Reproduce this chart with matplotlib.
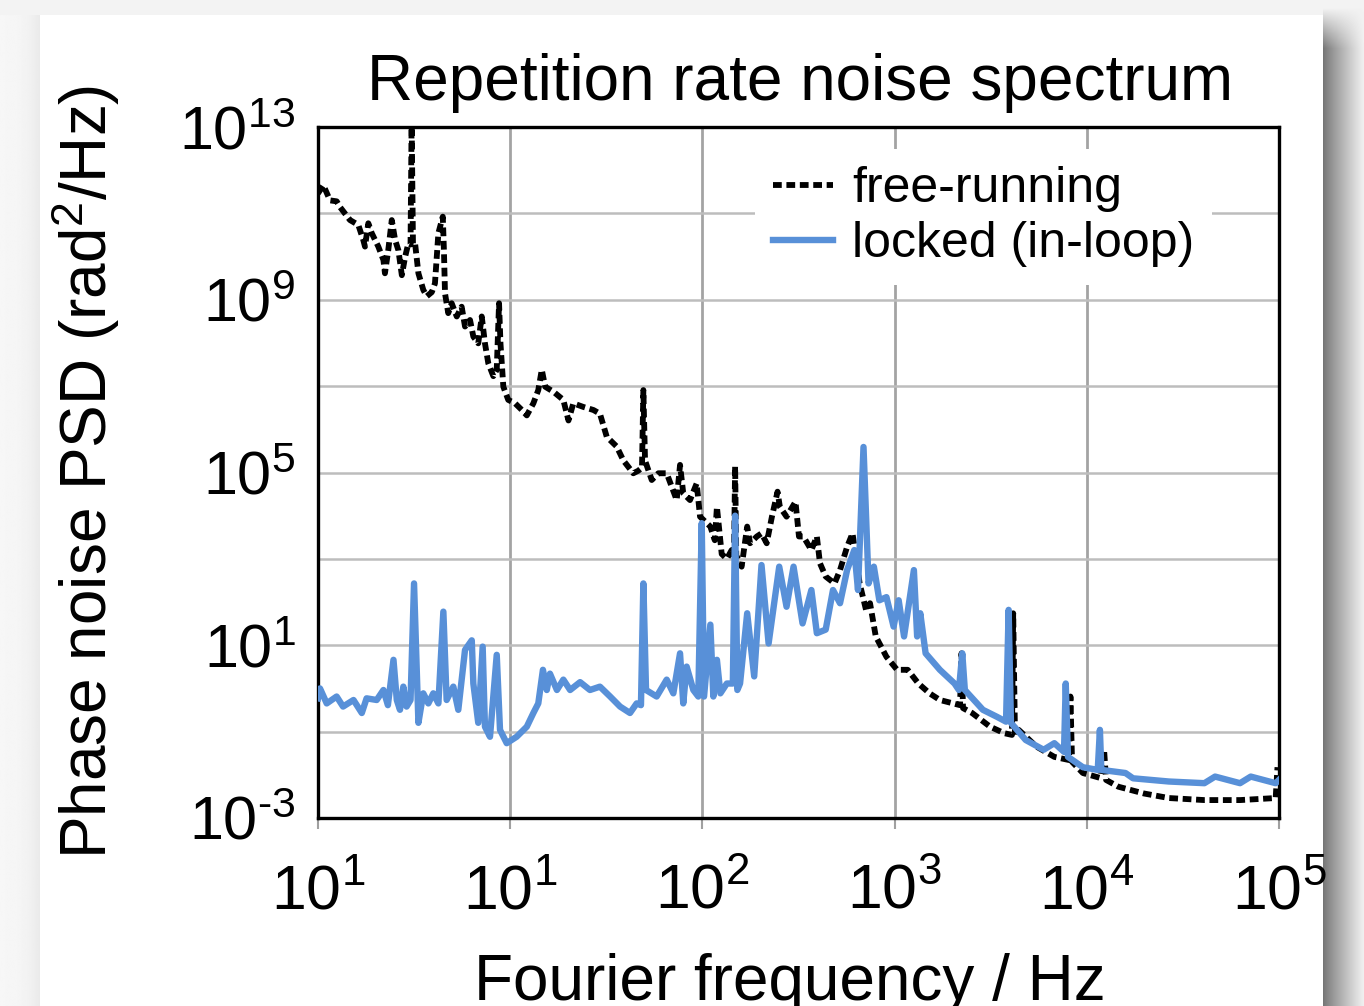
import numpy as np
import matplotlib
matplotlib.use("Agg")
import matplotlib.pyplot as plt
from matplotlib.lines import Line2D
from matplotlib.patches import Rectangle
from matplotlib.ticker import FixedLocator, LogLocator, NullFormatter

plt.rcParams['font.family'] = ['Liberation Sans', 'DejaVu Sans']
plt.rcParams['mathtext.fontset'] = 'custom'
plt.rcParams['mathtext.rm'] = 'Liberation Sans'

# free-running spectrum
freq_free = [1.00, 1.066, 1.155, 1.251, 1.302, 1.467, 1.621, 1.721, 1.756, 1.827,
             1.903, 2.06, 2.19, 2.23, 2.32, 2.42, 2.52, 2.62, 2.73, 2.84,
             2.95, 3.03, 3.07, 3.12, 3.20, 3.33, 3.53, 3.68, 3.91, 4.06,
             4.23, 4.46, 4.52, 4.58, 4.76, 4.96, 5.27, 5.59, 5.82, 6.18,
             6.43, 6.82, 7.11, 7.39, 7.69, 8.17, 8.51, 8.75, 8.90, 9.21,
             9.77, 10.6, 11.5, 12.2, 13.2, 14.0, 14.6, 15.2, 16.8, 18.9,
             20.1, 21.3, 24.0, 27.1, 29.3, 31.8, 35.8, 38.8, 43.7, 46.4,
             48.5, 49.3, 50.3, 54.5, 59.0, 65.2, 69.2, 73.5, 76.5, 79.5,
             86.2, 93.4, 97.2, 110, 116, 119, 126, 134, 142, 146,
             148, 150, 160, 171, 177, 192, 203, 216, 230, 246,
             253, 274, 305, 318, 335, 369, 394, 409, 438, 487,
             520, 566, 604, 658, 710, 745, 798, 907, 1030, 1170,
             1330, 1520, 1720, 2190, 2230, 2270, 2530, 3140, 3720, 4080,
             4140, 4230, 4420, 5470, 6780, 8080, 8220, 8380, 9540, 11700,
             12300, 12600, 14600, 19800, 26700, 40900, 62700, 96100, 98200]
psd_free = [2.9e11, 4.5e11, 2.0e11, 1.9e11, 1.4e11, 7.0e10, 5.4e10, 2.4e10, 1.7e10, 5.9e10,
            3.5e10, 1.7e10, 8.3e9, 4.1e9, 1.4e10, 7.0e10, 2.4e10, 1.4e10, 3.7e9, 9.9e9,
            2.0e10, 1.9e10, 1.5e13, 1.9e10, 2.0e10, 4.1e9, 1.7e9, 1.2e9, 1.5e9, 2.4e9,
            3.5e10, 8.4e10, 1.4e10, 1.4e9, 4.9e8, 8.3e8, 4.1e8, 6.9e8, 2.4e8, 3.4e8,
            1.4e8, 9.8e7, 4.1e8, 9.8e7, 3.4e7, 1.7e7, 2.4e7, 8.3e8, 9.8e7, 9.7e6,
            4.8e6, 4.0e6, 2.8e6, 2.1e6, 4.0e6, 8.1e6, 2.4e7, 9.7e6, 7.4e6, 4.8e6,
            1.6e6, 4.0e6, 3.3e6, 2.8e6, 2.3e6, 6.7e5, 4.0e5, 1.9e5, 9.6e4, 1.1e5,
            1.3e5, 8.1e6, 1.9e5, 6.7e4, 9.6e4, 9.6e4, 4.7e4, 2.3e4, 1.5e5, 3.3e4,
            2.3e4, 5.6e4, 9.5e3, 5.6e3, 2.7e3, 1.6e4, 1.3e3, 1.0e3, 1.6e3, 1.2e3,
            1.4e5, 1.2e3, 6.6e2, 5.6e3, 2.3e3, 3.3e3, 3.9e3, 2.3e3, 9.5e3, 3.6e4,
            1.6e4, 9.5e3, 2.1e4, 3.3e3, 3.3e3, 1.6e3, 3.3e3, 7.9e2, 3.9e2, 2.7e2,
            5.5e2, 1.9e3, 3.9e3, 2.7e2, 66, 94, 16, 5.4, 2.7, 2.7,
            1.3, 0.77, 0.54, 0.41, 6.5, 0.35, 0.27, 0.13, 0.092, 0.084,
            55, 0.084, 0.11, 0.045, 0.026, 0.022, 0.65, 0.020, 0.011, 0.0085,
            0.038, 0.0076, 0.0053, 0.0037, 0.0029, 0.0026, 0.0026, 0.0029, 0.015]

# locked (in-loop) spectrum
freq_lock = [1.00, 1.024, 1.11, 1.25, 1.35, 1.53, 1.69, 1.79, 2.02, 2.19,
             2.31, 2.47, 2.57, 2.67, 2.78, 2.89, 3.03, 3.16, 3.33, 3.53,
             3.75, 3.98, 4.23, 4.49, 4.67, 5.06, 5.37, 5.82, 6.31, 6.43,
             6.82, 7.19, 7.39, 7.85, 8.51, 8.85, 9.59, 10.8, 12.2, 13.2,
             14.0, 14.8, 15.5, 16.1, 17.5, 18.9, 20.5, 23.1, 26.0, 29.3,
             33.1, 37.3, 42.0, 45.5, 47.9, 49.3, 50.9, 57.8, 65.2, 70.6,
             76.5, 79.5, 82.8, 89.7, 95.2, 99.2, 102, 110, 114, 119,
             124, 134, 144, 148, 152, 157, 171, 186, 203, 221,
             251, 274, 298, 332, 369, 394, 438, 478, 520, 566,
             617, 645, 689, 732, 780, 833, 907, 988, 1050, 1120,
             1260, 1310, 1360, 1450, 1720, 2050, 2160, 2250, 2320, 2880,
             3410, 3800, 3920, 4030, 4810, 5960, 6780, 7610, 7770, 7980,
             9540, 11400, 11700, 11900, 15900, 17400, 26700, 40900, 46500, 62700,
             71300, 96100, 100000]
psd_lock = [0.59, 1.0, 0.45, 0.65, 0.38, 0.54, 0.27, 0.59, 0.54, 0.92,
            0.41, 4.6, 0.54, 0.32, 1.1, 0.38, 0.54, 270, 0.16, 0.77,
            0.45, 0.77, 0.45, 60, 0.54, 1.1, 0.32, 7.8, 13, 1.3,
            0.16, 9.3, 0.13, 0.076, 6.0, 0.11, 0.054, 0.076, 0.13, 0.27,
            0.45, 2.7, 0.92, 2.2, 0.92, 1.6, 0.92, 1.4, 0.92, 1.1,
            0.65, 0.38, 0.27, 0.45, 0.41, 270, 0.92, 0.65, 1.6, 0.77,
            6.5, 0.45, 3.2, 0.92, 0.65, 6.7e3, 0.65, 30, 0.65, 4.6,
            0.77, 1.3, 1.3, 1.0e4, 0.92, 1.3, 55, 1.9, 720, 11,
            660, 78, 660, 32, 190, 19, 23, 190, 94, 550,
            1.6e3, 190, 3.9e5, 270, 660, 110, 130, 27, 110, 16,
            550, 16, 55, 6.5, 2.7, 1.3, 0.92, 6.5, 0.92, 0.32,
            0.22, 0.17, 66, 0.16, 0.064, 0.038, 0.054, 0.034, 1.3, 0.026,
            0.015, 0.013, 0.11, 0.013, 0.011, 0.0083, 0.0070, 0.0064, 0.0091, 0.0064,
            0.0091, 0.0064, 0.0076]

x_ticks = [1e0, 1e1, 1e2, 1e3, 1e4, 1e5]
x_ticklabels = ['$\\mathregular{10^{1}}$', '$\\mathregular{10^{1}}$', '$\\mathregular{10^{2}}$',
                '$\\mathregular{10^{3}}$', '$\\mathregular{10^{4}}$', '$\\mathregular{10^{5}}$']
y_ticks = [1e-3, 1e1, 1e5, 1e9, 1e13]
y_ticklabels = ['$\\mathregular{10^{\u2010 3}}$', '$\\mathregular{10^{1}}$', '$\\mathregular{10^{5}}$',
                '$\\mathregular{10^{9}}$', '$\\mathregular{10^{13}}$']
y_grid_extra = [1e-1, 1e3, 1e7, 1e11]

BLUE = '#5890d8'
W, H = 1364, 1006
fig = plt.figure(figsize=(W / 100, H / 100), dpi=100, facecolor='#f3f3f3')

# card shadow on the right and left
xs = np.linspace(0, 1, 41)
ys = np.linspace(0, 1, H)
shade = 0.46 + 0.48 * xs[None, :] ** 0.9
top = np.clip((ys[:, None] * H - 8) / 40, 0, 1)
shade = 0.95 - (0.95 - shade) * top
sh = fig.add_axes([1323 / W, 0, 41 / W, 1])
sh.imshow(shade, cmap='gray', vmin=0, vmax=1, aspect='auto', extent=[0, 1, 0, 1])
sh.axis('off')
lshade = 0.965 - 0.05 * xs[None, :] ** 3 * np.ones((H, 1))
sl = fig.add_axes([0, 0, 40 / W, 1 - 15 / H])
sl.imshow(lshade, cmap='gray', vmin=0, vmax=1, aspect='auto', extent=[0, 1, 0, 1])
sl.axis('off')
fig.patches.append(Rectangle((40 / W, 0), (1323 - 40) / W, 1 - 15 / H,
                             transform=fig.transFigure, facecolor='white',
                             edgecolor='none', zorder=-5))

ax = fig.add_axes([318 / W, 1 - 818 / H, (1279 - 318) / W, (818 - 127) / H])
ax.set_facecolor('white')
ax.set_xscale('log')
ax.set_yscale('log')
ax.set_xlim(1, 1e5)
ax.set_ylim(1e-3, 1e13)

ax.plot(freq_free, psd_free, color='black', lw=4.2, dashes=(1.5, 0.8),
        dash_capstyle='butt', zorder=3)
ax.plot(freq_lock, psd_lock, color=BLUE, lw=4.6, zorder=4)

ax.set_xticks(x_ticks)
ax.set_xticklabels(x_ticklabels)
ax.xaxis.set_minor_locator(LogLocator(base=10, subs=np.arange(2, 10)))
ax.xaxis.set_minor_formatter(NullFormatter())
ax.set_yticks(y_ticks)
ax.set_yticklabels(y_ticklabels)
ax.yaxis.set_minor_locator(FixedLocator(y_grid_extra))
ax.yaxis.set_minor_formatter(NullFormatter())

ax.grid(True, which='major', axis='x', color='#a3a3a3', lw=2.0, zorder=0)
ax.grid(True, which='minor', axis='x', color='#dedede', lw=1.6, zorder=0)
ax.grid(True, which='both', axis='y', color='#bdbdbd', lw=1.8, zorder=0)
ax.set_axisbelow(True)

ax.tick_params(axis='x', which='major', length=8, width=1.5, color='#a0a0a0',
               labelsize=45, pad=24)
ax.tick_params(axis='x', which='minor', length=0)
ax.tick_params(axis='y', which='both', length=0, labelsize=44, pad=16)
for s in ax.spines.values():
    s.set_linewidth(2.4)
    s.set_color('black')

handles = [Line2D([], [], color='black', lw=4.2, dashes=(1.5, 0.8)),
           Line2D([], [], color=BLUE, lw=4.6)]
leg = ax.legend(handles, ['free-running', 'locked (in-loop)'], loc='upper right',
                bbox_to_anchor=(0.956, 1.005), fontsize=36, frameon=True,
                handlelength=1.2, handletextpad=0.38, labelspacing=0.18,
                borderpad=0.35, fancybox=False)
leg.get_frame().set_facecolor('white')
leg.get_frame().set_edgecolor('none')
leg.get_frame().set_alpha(1)

fig.text(800 / W, 1 - 100 / H, 'Repetition rate noise spectrum', fontsize=46,
         ha='center', va='baseline')
fig.text(107 / W, 1 - 472 / H, 'Phase noise PSD (rad$\\mathregular{^2}$/Hz)', fontsize=46,
         rotation=90, rotation_mode='anchor', ha='center', va='baseline')
fig.text(790 / W, 1 - 1000 / H, 'Fourier frequency / Hz', fontsize=46,
         ha='center', va='baseline')

fig.savefig('out.png', dpi=100, facecolor=fig.get_facecolor())
